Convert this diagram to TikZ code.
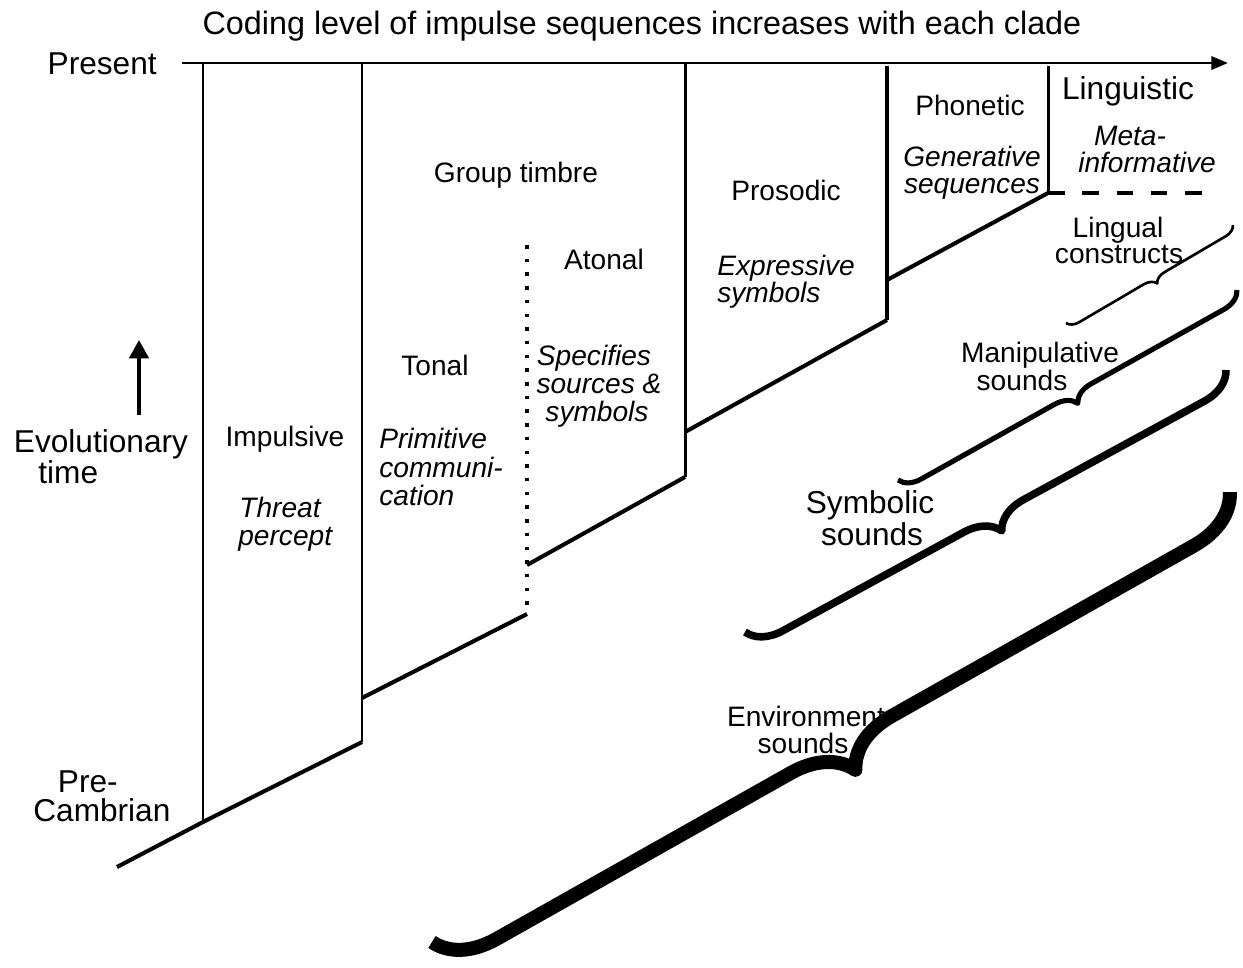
\documentclass[tikz,border=0pt]{standalone}
\usepackage{fontspec}
\setmainfont{Liberation Sans}
\usetikzlibrary{arrows.meta,decorations.pathreplacing}
\begin{document}
\begin{tikzpicture}[x=0.02cm, y=-0.02cm,
  wall/.style={line width=1.7pt},
  heavywall/.style={line width=2.6pt},
  ledge/.style={line width=2.3pt},
  lab/.style={inner sep=0pt, anchor=base, font=\fontsize{16}{19}\selectfont},
  itlab/.style={lab, font=\fontsize{16}{19}\selectfont\itshape},
  biglab/.style={inner sep=0pt, anchor=base, font=\fontsize{18}{21}\selectfont},
  calbrace/.style n args={3}{decorate,
    decoration={brace, mirror, amplitude=#1, aspect=#2},
    line width=#3, line join=round},
]
\useasboundingbox (0,0) rectangle (1243,967);

% --- frame points -------------------------------------------------
\coordinate (axL) at (182,63);
\coordinate (axR) at (1228,63);
\coordinate (v1t) at (203,63);   \coordinate (v1b) at (203,822);
\coordinate (v2t) at (362,63);   \coordinate (v2b) at (362,742);
\coordinate (v3t) at (685,63);   \coordinate (v3b) at (685,477);
\coordinate (v4t) at (887,66);   \coordinate (v4b) at (887,320);
\coordinate (v5t) at (1048,66);  \coordinate (v5b) at (1048,193);
\coordinate (base0) at (117,867);
\coordinate (f2a) at (362,698);  \coordinate (f2b) at (527,614);
\coordinate (dotTop) at (527,245);
\coordinate (f3a) at (527,565);
\coordinate (f4a) at (685,432);
\coordinate (f5a) at (887,280);
\coordinate (dashEnd) at (1210,193);
\coordinate (etail) at (139,415);
\coordinate (ehead) at (139,340);

% --- axis and clade walls -----------------------------------------
\draw[wall, -{Triangle[length=9.5pt,width=7.5pt]}] (axL) -- (axR);
\draw[wall] (v1t) -- (v1b);
\draw[wall] (v2t) -- (v2b);
\draw[wall] (v3t) -- (v3b);
\draw[heavywall] (v4t) -- (v4b);
\draw[wall] (v5t) -- (v5b);

% --- sloping floors -----------------------------------------------
\draw[ledge] (base0) -- (v1b) -- (v2b);
\draw[ledge] (f2a) -- (f2b);
\draw[ledge] (f3a) -- (v3b);
\draw[ledge] (f4a) -- (v4b);
\draw[ledge] (f5a) -- (v5b);
\draw[line width=2pt, dash pattern=on 2pt off 5.8pt] (dotTop) -- (f2b);
\draw[line width=1.8pt, dash pattern=on 9.5pt off 10pt] (v5b) -- (dashEnd);

% --- time arrow ---------------------------------------------------
\draw[line width=2.2pt, -{Triangle[length=10.5pt,width=11pt]}] (etail) -- (ehead);

% --- sound braces -------------------------------------------------
\coordinate (envA) at (432,942);  \coordinate (envB) at (1230,492);
\coordinate (symA) at (745,632);  \coordinate (symB) at (1226,370);
\coordinate (manA) at (898,480);  \coordinate (manB) at (1237,290);
\coordinate (linA) at (1066,323); \coordinate (linB) at (1233,225);
\draw[calbrace={1.16cm}{0.495}{8pt}] (envA) -- (envB);
\draw[calbrace={0.68cm}{0.5}{4.3pt}] (symA) -- (symB);
\draw[calbrace={0.42cm}{0.5}{2.9pt}] (manA) -- (manB);
\draw[calbrace={0.24cm}{0.51}{1.5pt}] (linA) -- (linB);

% --- labels -------------------------------------------------------
\node[biglab, font=\fontsize{18.4}{21}\selectfont] (title) at (642,34)
  {Coding level of impulse sequences increases with each clade};
\node[biglab, anchor=base east] (present) at (157,74) {Present};
\node[biglab] (evo1) at (101,452) {Evolutionary};
\node[biglab, anchor=base west] (evo2) at (38,483) {time};
\node[biglab, anchor=north west, align=left, font=\fontsize{18}{17}\selectfont]
  (precambrian) at (33,770) {\hspace*{14pt}Pre-\\Cambrian};

\node[lab] (impulsive) at (285,446) {Impulsive};
\node[itlab, anchor=base west] (thr1) at (239,517) {Threat};
\node[itlab, anchor=base west] (thr2) at (238,545) {percept};

\node[lab] (tonal) at (435,375) {Tonal};
\node[itlab, anchor=base west] (pri1) at (379,448) {Primitive};
\node[itlab, anchor=base west] (pri2) at (379,477) {communi-};
\node[itlab, anchor=base west] (pri3) at (379,505) {cation};

\node[lab] (group) at (516,182) {Group timbre};
\node[lab] (atonal) at (604,269) {Atonal};
\node[itlab] (spe1) at (594,365) {Specifies};
\node[itlab] (spe2) at (599,393) {sources \&};
\node[itlab] (spe3) at (597,421) {symbols};

\node[lab] (prosodic) at (786,200) {Prosodic};
\node[itlab, anchor=base west] (exp1) at (717,275) {Expressive};
\node[itlab, anchor=base west] (exp2) at (717,302) {symbols};

\node[lab] (phonetic) at (970,115) {Phonetic};
\node[itlab] (gen1) at (972,166) {Generative};
\node[itlab] (gen2) at (972,193) {sequences};

\node[biglab] (linguistic) at (1128,99) {Linguistic};
\node[itlab] (meta1) at (1130,145) {Meta-};
\node[itlab] (meta2) at (1147,172) {informative};

\node[lab] (lin1) at (1118,237) {Lingual};
\node[lab] (lin2) at (1119,263) {constructs};
\node[lab] (man1) at (1040,362) {Manipulative};
\node[lab] (man2) at (1022,390) {sounds};
\node[biglab] (sym1) at (870,513) {Symbolic};
\node[biglab] (sym2) at (872,545) {sounds};
\node[lab] (env1) at (806,726) {Environment};
\node[lab] (env2) at (803,753) {sounds};
\end{tikzpicture}
\end{document}
